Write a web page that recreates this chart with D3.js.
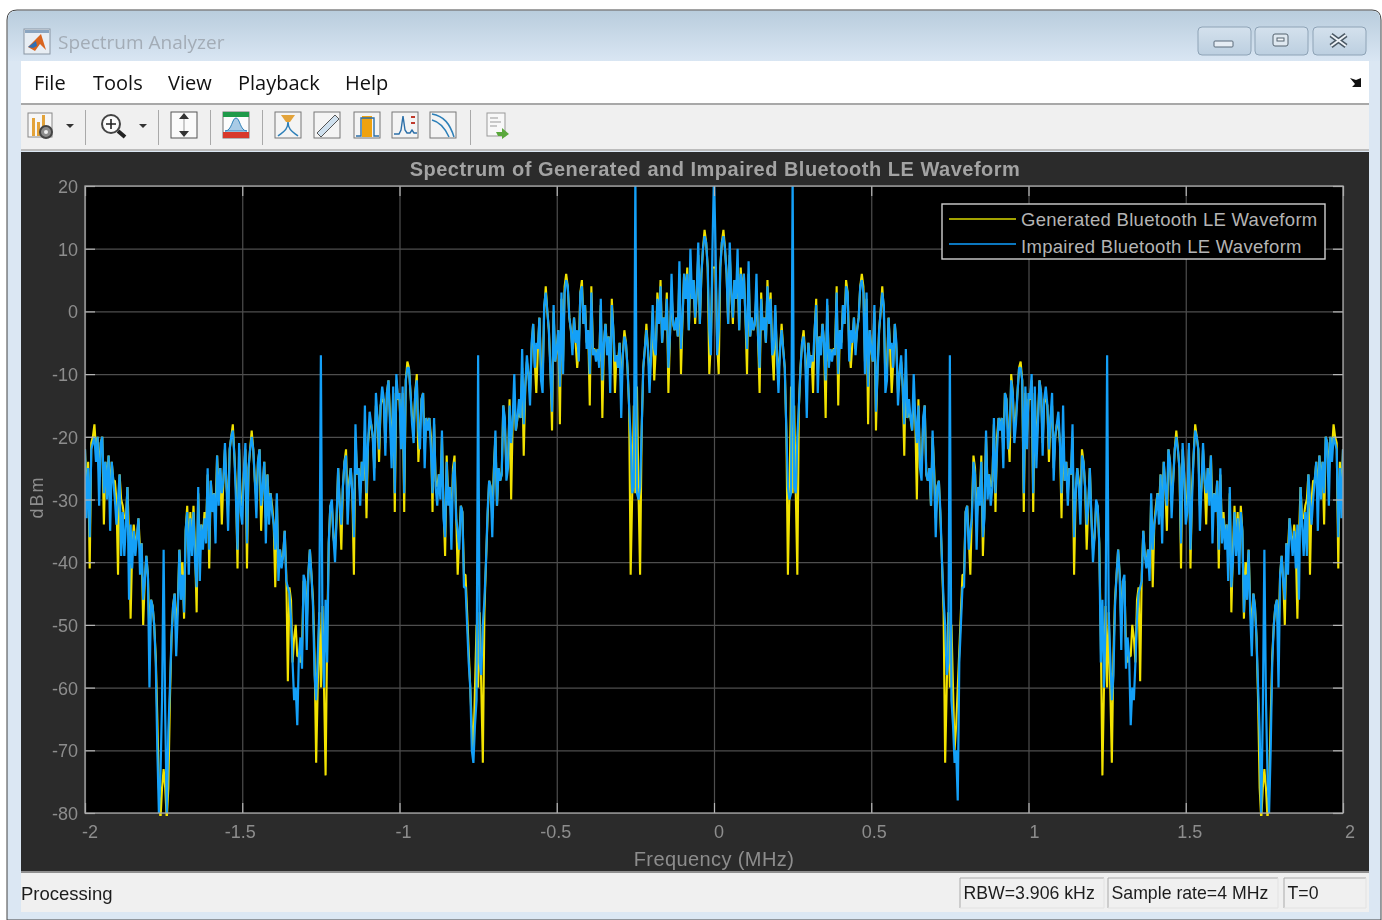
<!DOCTYPE html>
<html>
<head>
<meta charset="utf-8">
<title>Spectrum Analyzer</title>
<script src="https://d3js.org/d3.v7.min.js"></script>
<style>
  html, body { margin: 0; padding: 0; background: #fff; overflow: hidden; }
  svg { display: block; filter: blur(0.45px); }
</style>
</head>
<body>
<div id="chart"></div>
<script>
// Values, one row = 0.1 MHz, 0.005 MHz between samples
var xTicks = [-2, -1.5, -1, -0.5, 0, 0.5, 1, 1.5, 2];
var yTicks = [20, 10, 0, -10, -20, -30, -40, -50, -60, -70, -80];
var seriesNames = ["Generated Bluetooth LE Waveform", "Impaired Bluetooth LE Waveform"];
var menuItems = ["File", "Tools", "View", "Playback", "Help"];

var generatedDbm = [
  -22,-30,-24,-41,-21,-20,-18,-22,-20,-26,-21,-20,-34,-24,-27,-23,-29,-24,-27,-27,
  -30,-42,-26,-30,-31,-33,-33,-28,-36,-49,-38,-34,-37,-36,-33,-38,-37,-50,-43,-39,
  -42,-52,-46,-47,-50,-55,-65,-76,-81,-76,-73,-76,-81,-76,-62,-52,-47,-45,-50,-47,
  -38,-42,-40,-49,-35,-31,-38,-32,-37,-31,-38,-48,-29,-38,-34,-36,-32,-35,-26,-41,
  -27,-31,-29,-32,-23,-29,-25,-34,-27,-22,-28,-31,-22,-20,-18,-23,-28,-41,-22,-30,
  -31,-26,-22,-41,-25,-22,-19,-22,-27,-30,-24,-22,-35,-28,-24,-33,-26,-31,-29,-31,
  -34,-44,-30,-41,-38,-40,-39,-35,-42,-59,-44,-46,-56,-52,-50,-55,-55,-56,-54,-43,
  -43,-50,-42,-38,-42,-46,-55,-72,-60,-48,-60,-47,-60,-74,-52,-37,-31,-31,-36,-38,
  -33,-25,-31,-38,-28,-24,-22,-31,-27,-25,-29,-42,-20,-26,-25,-29,-24,-27,-19,-33,
  -21,-18,-18,-20,-25,-15,-17,-24,-15,-14,-14,-21,-13,-11,-17,-22,-13,-32,-11,-14,
  -14,-20,-13,-32,-11,-8,-9,-13,-17,-19,-13,-10,-24,-19,-14,-13,-22,-17,-18,-17,
  -20,-32,-18,-27,-28,-26,-28,-20,-31,-39,-23,-30,-28,-34,-25,-23,-32,-42,-36,-31,
  -32,-42,-42,-48,-54,-60,-66,-70,-60,-50,-60,-48,-60,-72,-48,-40,-33,-27,-28,-33,
  -25,-20,-31,-25,-27,-26,-15,-18,-25,-25,-14,-30,-17,-14,-19,-17,-16,-17,-9,-23,
  -12,-8,-10,-13,-6,-2,-8,-13,-6,-1,-9,-11,0,4,0,-3,-9,-19,0,-8,
  -6,-3,-18,2,-8,4,6,4,-1,-3,-6,-1,-5,-9,-6,3,5,-2,1,-5,
  -3,-15,4,-6,-6,-7,-6,-8,1,-17,-5,-2,-6,-4,-10,2,-3,-13,-7,-8,
  -5,-12,-7,-3,-5,-9,-15,-42,-29,-15,-29,-12,-29,-42,-19,-9,-6,-2,-6,-10,
  -7,0,-11,-6,3,-2,5,-5,-1,-3,3,-13,-4,3,-2,-3,-1,-4,6,-10,
  -1,6,2,7,-3,7,2,5,-2,3,9,-2,6,10,13,11,7,-10,-5,7,
  7,
  7,-5,-10,7,11,13,10,6,-2,9,3,-2,5,2,7,-3,7,2,6,-1,
  -10,6,-4,-1,-3,-2,3,-4,-13,3,-3,-1,-5,5,-2,3,-6,-11,0,-7,
  -10,-6,-2,-6,-9,-19,-42,-29,-12,-29,-15,-29,-42,-15,-9,-5,-3,-7,-12,-5,
  -8,-7,-13,-3,2,-10,-4,-6,-2,-5,-17,1,-8,-6,-7,-6,-6,4,-15,-3,
  -5,1,-2,5,3,-6,-9,-5,-1,-6,-3,-1,4,6,4,-8,2,-18,-3,-6,
  -8,0,-19,-9,-3,0,4,0,-11,-9,-1,-6,-13,-8,-2,-6,-13,-10,-8,-12,
  -23,-9,-17,-16,-17,-19,-14,-17,-30,-14,-25,-25,-18,-15,-26,-27,-25,-31,-20,-25,
  -33,-28,-27,-33,-40,-48,-72,-60,-48,-60,-50,-60,-70,-66,-60,-54,-48,-42,-42,-32,
  -31,-36,-42,-32,-23,-25,-34,-28,-30,-23,-39,-31,-20,-28,-26,-28,-27,-18,-32,-20,
  -17,-18,-17,-22,-13,-14,-19,-24,-10,-13,-19,-17,-13,-9,-8,-11,-32,-13,-20,-14,
  -14,-11,-32,-13,-22,-17,-11,-13,-21,-14,-14,-15,-24,-17,-15,-25,-20,-18,-18,-21,
  -33,-19,-27,-24,-29,-25,-26,-20,-42,-29,-25,-27,-31,-22,-24,-28,-38,-31,-25,-33,
  -38,-36,-31,-31,-37,-52,-74,-60,-47,-60,-48,-60,-72,-55,-46,-42,-38,-42,-50,-43,
  -43,-54,-56,-55,-55,-50,-52,-56,-46,-44,-59,-42,-35,-39,-40,-38,-41,-30,-44,-34,
  -31,-29,-31,-26,-33,-24,-28,-35,-22,-24,-30,-27,-22,-19,-22,-25,-41,-22,-26,-31,
  -30,-22,-41,-28,-23,-18,-20,-22,-31,-28,-22,-27,-34,-25,-29,-23,-32,-29,-31,-27,
  -41,-26,-35,-32,-36,-34,-38,-29,-48,-38,-31,-37,-32,-38,-31,-35,-49,-40,-42,-38,
  -47,-50,-45,-47,-52,-62,-76,-81,-76,-73,-76,-81,-76,-65,-55,-50,-47,-46,-52,-42,
  -39,-43,-50,-37,-38,-33,-36,-37,-34,-38,-49,-36,-28,-33,-33,-31,-30,-26,-42,-30,
  -27,-27,-24,-29,-23,-27,-24,-34,-20,-21,-26,-20,-22,-18,-20,-21,-41,-24,-30,-22
];

var impairedDbm = [
  -22,-33,-25,-36,-22,-21,-20,-24,-20,-31,-21,-20,-29,-24,-30,-23,-35,-24,-27,-30,
  -34,-30,-26,-39,-32,-39,-34,-28,-46,-34,-41,-35,-39,-36,-33,-42,-37,-46,-43,-39,
  -42,-60,-46,-47,-50,-56,-70,-80,-74,-62,-38,-64,-80,-67,-60,-52,-47,-45,-55,-48,
  -38,-46,-42,-48,-35,-32,-42,-33,-39,-32,-40,-44,-28,-43,-34,-38,-33,-37,-25,-38,
  -27,-32,-29,-37,-23,-31,-25,-29,-27,-21,-28,-35,-22,-20,-19,-23,-30,-38,-21,-32,
  -34,-26,-21,-37,-25,-22,-20,-22,-27,-33,-24,-22,-31,-28,-24,-37,-26,-34,-29,-32,
  -34,-38,-29,-43,-38,-41,-39,-35,-43,-44,-45,-49,-56,-62,-60,-66,-55,-52,-57,-42,
  -43,-54,-42,-38,-42,-47,-58,-62,-55,-48,-7,-50,-60,-46,-56,-37,-31,-30,-36,-40,
  -33,-25,-31,-34,-28,-24,-23,-34,-28,-25,-29,-36,-18,-26,-25,-31,-24,-27,-15,-29,
  -21,-16,-18,-20,-27,-13,-17,-22,-15,-12,-14,-23,-13,-11,-18,-25,-12,-29,-10,-14,
  -13,-22,-12,-29,-11,-9,-9,-13,-18,-21,-13,-11,-19,-22,-14,-13,-25,-17,-19,-17,
  -22,-29,-17,-28,-31,-26,-30,-19,-33,-36,-24,-31,-28,-38,-26,-24,-33,-35,-38,-31,
  -32,-44,-44,-50,-56,-60,-70,-72,-66,-62,-7,-56,-58,-50,-46,-40,-32,-27,-28,-36,
  -26,-19,-31,-25,-27,-26,-15,-17,-27,-25,-15,-21,-17,-10,-19,-17,-14,-17,-6,-18,
  -12,-7,-10,-15,-5,-2,-9,-5,-6,-1,-11,-13,1,3,0,-3,-10,-16,1,-8,
  -6,-3,-12,3,-10,3,5,4,-1,-3,-7,-1,-5,-3,-8,3,4,-2,1,-6,
  -3,-10,3,-7,-6,-8,-6,-9,2,-11,-5,-2,-7,-4,-13,1,-3,-8,-7,-9,
  -5,-17,-7,-4,-5,-9,-15,-20,-29,-28,22,-29,-30,-28,-19,-9,-6,-3,-6,-13,
  -7,1,-6,-7,2,-2,4,-5,-1,-3,2,-9,-4,6,-2,-3,-1,-4,8,-6,
  -1,6,2,6,-3,10,2,5,-1,3,11,-2,6,10,12,11,7,-3,-7,10,
  22,
  10,-7,-3,7,11,12,10,6,-2,11,3,-1,5,2,10,-3,6,2,6,-1,
  -6,8,-4,-1,-3,-2,6,-4,-9,2,-3,-1,-5,4,-2,2,-7,-6,1,-7,
  -13,-6,-3,-6,-9,-19,-28,-30,-29,22,-28,-29,-20,-15,-9,-5,-4,-7,-17,-5,
  -9,-7,-8,-3,1,-13,-4,-7,-2,-5,-11,2,-9,-6,-8,-6,-7,3,-10,-3,
  -6,1,-2,4,3,-8,-3,-5,-1,-7,-3,-1,4,5,3,-10,3,-12,-3,-6,
  -8,1,-16,-10,-3,0,3,1,-13,-11,-1,-6,-5,-9,-2,-5,-15,-10,-7,-12,
  -18,-6,-17,-14,-17,-19,-10,-17,-21,-15,-25,-27,-17,-15,-26,-27,-25,-31,-19,-26,
  -36,-28,-27,-32,-40,-46,-50,-58,-56,-7,-62,-66,-72,-70,-78,-56,-50,-44,-44,-32,
  -31,-38,-35,-33,-24,-26,-38,-28,-31,-24,-36,-33,-19,-30,-26,-31,-28,-17,-29,-22,
  -17,-19,-17,-25,-13,-14,-22,-19,-11,-13,-21,-18,-13,-9,-9,-11,-29,-12,-22,-13,
  -14,-10,-29,-12,-25,-18,-11,-13,-23,-14,-12,-15,-22,-17,-13,-27,-20,-18,-16,-21,
  -29,-15,-27,-24,-31,-25,-26,-18,-36,-29,-25,-28,-34,-23,-24,-28,-34,-31,-25,-33,
  -40,-36,-30,-31,-37,-56,-46,-60,-50,-7,-48,-55,-62,-58,-47,-42,-38,-42,-54,-43,
  -42,-57,-52,-55,-66,-60,-62,-56,-49,-45,-44,-43,-35,-39,-41,-38,-43,-29,-38,-34,
  -32,-29,-34,-26,-37,-24,-28,-31,-22,-24,-33,-27,-22,-20,-22,-25,-37,-21,-26,-34,
  -32,-21,-38,-30,-23,-19,-20,-22,-35,-28,-21,-27,-29,-25,-31,-23,-37,-29,-32,-27,
  -38,-25,-37,-33,-38,-34,-43,-28,-44,-40,-32,-39,-33,-42,-32,-35,-48,-42,-46,-38,
  -48,-55,-45,-47,-52,-60,-67,-80,-64,-38,-62,-74,-80,-70,-56,-50,-47,-46,-60,-42,
  -39,-43,-46,-37,-42,-33,-36,-39,-35,-41,-34,-46,-28,-34,-39,-32,-39,-26,-30,-34,
  -30,-27,-24,-35,-23,-30,-24,-29,-20,-21,-31,-20,-24,-20,-21,-22,-36,-25,-33,-22
];

// sample frequencies, same bin for both traces
var freqMHz = generatedDbm.map(function(d, i) { return -2 + i * 0.005; });

var W = 1382, H = 920;
var sans = "'Liberation Sans', Arial, sans-serif";
var uiFont = "'Open Sans', 'Noto Sans', sans-serif";

var svg = d3.select("#chart").append("svg").attr("width", W).attr("height", H);

function rect(g, x, y, w, h, fill, stroke) {
    return g.append("rect").attr("x", x).attr("y", y).attr("width", w).attr("height", h)
        .attr("fill", fill).attr("stroke", stroke || "none");
}
function label(g, x, y, txt, size, color, anchor, font) {
    return g.append("text").attr("x", x).attr("y", y).text(txt)
        .attr("font-family", font || sans).attr("font-size", size)
        .attr("fill", color).attr("text-anchor", anchor || "start")
        .attr("dominant-baseline", "central");
}

/**
 * Window frame: title bar, menu, toolbar and status bar
 */
var defs = svg.append("defs");
var grad = defs.append("linearGradient").attr("id", "titleGrad").attr("x1", 0).attr("x2", 0).attr("y1", 0).attr("y2", 1);
grad.append("stop").attr("offset", "0%").attr("stop-color", "#b9cddd");
grad.append("stop").attr("offset", "100%").attr("stop-color", "#d9e6f3");
var btnGrad = defs.append("linearGradient").attr("id", "btnGrad").attr("x1", 0).attr("x2", 0).attr("y1", 0).attr("y2", 1);
btnGrad.append("stop").attr("offset", "0%").attr("stop-color", "#d4e1ed");
btnGrad.append("stop").attr("offset", "100%").attr("stop-color", "#bccfe0");

var frame = svg.append("g");
frame.append("path")
    .attr("d", "M7,920 V20 Q7,10 17,10 H1372 Q1381,10 1381,20 V920 Z")
    .attr("fill", "#dbe7f3").attr("stroke", "#444").attr("stroke-width", 1);
frame.append("path").attr("d", "M8,61 V20 Q8,11 17,11 H1372 Q1380,11 1380,20 V61 Z").attr("fill", "url(#titleGrad)");

// title bar
var titleIcon = frame.append("g");
rect(titleIcon, 24, 29, 26, 25, "#e8eef4", "#8a96a3");
rect(titleIcon, 25, 30, 24, 3, "#8ba5c0");
titleIcon.append("path").attr("d", "M28,47 L37,38 L41,34 L46,50 L40,44 L35,51 Z").attr("fill", "#d9641e");
titleIcon.append("path").attr("d", "M28,47 L36,41 L37,46 L33,48 Z").attr("fill", "#2f6fb5");
label(frame, 58, 42, "Spectrum Analyzer", 19, "#a3acb6", "start", uiFont);

var btnX = [1198, 1255, 1313];
btnX.forEach(function(x) {
    rect(frame, x, 27, 53, 28, "url(#btnGrad)", "#8ea3b6").attr("rx", 4);
});
rect(frame, 1214, 41, 19, 6, "#e6edf4", "#5b6b7a").attr("rx", 1);
rect(frame, 1273, 34, 15, 12, "#dfe8f0", "#55636f").attr("rx", 2);
rect(frame, 1277, 38, 7, 3, "#f2f6fa", "#55636f");
frame.append("path").attr("d", "M1331,35 L1346,46 M1346,35 L1331,46").attr("stroke", "#4a5864").attr("stroke-width", 5);
frame.append("path").attr("d", "M1331,35 L1346,46 M1346,35 L1331,46").attr("stroke", "#eef3f8").attr("stroke-width", 2);

// menu bar
rect(frame, 21, 61, 1348, 42, "#fff");
rect(frame, 21, 103, 1348, 2, "#a8a8a8");
var menuX = [34, 93, 168, 238, 345];
menuItems.forEach(function(m, i) {
    label(frame, menuX[i], 82, m, 20, "#111", "start", uiFont);
});
frame.append("path").attr("d", "M1350,78 L1356,80 L1361,78 L1361,87 L1352,87 L1355,84 Z").attr("fill", "#111");

// toolbar
rect(frame, 21, 105, 1348, 45, "#f0f0f0");
rect(frame, 21, 149, 1348, 2, "#bcbcbc");
[85, 158, 210, 262, 470].forEach(function(x) { rect(frame, x, 110, 1, 35, "#a9a9a9"); });
[70, 143].forEach(function(x) {
    frame.append("path").attr("d", "M" + (x - 4) + ",124 h8 l-4,4 Z").attr("fill", "#333");
});

var tools = frame.append("g");
// plot properties
rect(tools, 28, 113, 24, 24, "#f7f7f7", "#888");
[[32, 118, "#e3a33a"], [37, 122, "#e3a33a"], [42, 115, "#e3a33a"]].forEach(function(b) {
    rect(tools, b[0], b[1], 3, 136 - b[1], b[2]);
});
tools.append("circle").attr("cx", 46).attr("cy", 132).attr("r", 6).attr("fill", "#8b8b8b").attr("stroke", "#444").attr("stroke-width", 2);
tools.append("circle").attr("cx", 46).attr("cy", 132).attr("r", 2).attr("fill", "#eee");
// zoom
tools.append("circle").attr("cx", 111).attr("cy", 124).attr("r", 9).attr("fill", "#fbfbfb").attr("stroke", "#444").attr("stroke-width", 2);
tools.append("path").attr("d", "M106,124 h10 M111,119 v10").attr("stroke", "#222").attr("stroke-width", 1.6);
tools.append("path").attr("d", "M118,131 L125,137").attr("stroke", "#222").attr("stroke-width", 4);
// autoscale
rect(tools, 171, 112, 26, 26, "#fafafa", "#555");
tools.append("path").attr("d", "M184,113 l-5,6 h10 Z M184,137 l-5,-6 h10 Z").attr("fill", "#333");
tools.append("path").attr("d", "M184,119 V131").attr("stroke", "#999");
// spectral mask
rect(tools, 223, 112, 26, 26, "#fdfdfd", "#777");
rect(tools, 223, 112, 26, 5, "#1f9a4a");
rect(tools, 223, 132, 26, 6, "#d8392b");
tools.append("path").attr("d", "M225,131 C232,131 232,118 236,118 C240,118 240,131 247,131 Z").attr("fill", "#a9cbe6").attr("stroke", "#2c7fb8");
// measurement icons
[275, 314, 354, 392, 430].forEach(function(x) { rect(tools, x, 112, 26, 26, "#f4f4f4", "#777"); });
tools.append("path").attr("d", "M281,115 h14 l-5,7 h-4 Z").attr("fill", "#e3a33a");
tools.append("path").attr("d", "M288,122 C288,130 283,132 278,136 M288,122 C288,130 293,132 298,136").attr("stroke", "#2c7fb8").attr("fill", "none").attr("stroke-width", 1.5);
tools.append("path").attr("d", "M317,133 L335,115 L339,119 L321,137 Z").attr("fill", "#cfe0ee").attr("stroke", "#555");
rect(tools, 362, 116, 10, 21, "#f0a20e");
tools.append("path").attr("d", "M356,136 h5 V118 h13 V136 h5").attr("stroke", "#2c6fa8").attr("fill", "none").attr("stroke-width", 1.4);
tools.append("path").attr("d", "M394,134 h5 l2,-4 l2,-14 l2,14 l2,3 h3 l2,-3 l2,3 h3").attr("stroke", "#2c6fa8").attr("fill", "none").attr("stroke-width", 1.4);
rect(tools, 411, 116, 4, 2, "#c0392b");
rect(tools, 411, 122, 4, 2, "#c0392b");
tools.append("path").attr("d", "M432,114 C444,116 450,124 454,137 M432,120 C440,122 445,128 449,137").attr("stroke", "#2c7fb8").attr("fill", "none").attr("stroke-width", 1.5);
// print / export
rect(tools, 487, 113, 18, 23, "#f8f8f8", "#999");
tools.append("path").attr("d", "M490,118 h8 M490,122 h11 M490,126 h7").attr("stroke", "#999");
tools.append("path").attr("d", "M496,132 h6 v-4 l7,6 l-7,5 v-3 h-4 Z").attr("fill", "#5aa83c");

// status bar
rect(frame, 21, 152, 1348, 720, "#2b2b2b");
rect(frame, 21, 871, 1348, 2, "#8f8f8f");
rect(frame, 21, 873, 1348, 39, "#f0f0f0");
label(frame, 21, 893, "Processing", 18.5, "#1c1c1c");
var statusBoxes = [[960, 144, "RBW=3.906 kHz"], [1108, 170, "Sample rate=4 MHz"], [1284, 82, "T=0"]];
statusBoxes.forEach(function(b) {
    frame.append("path").attr("d", "M" + b[0] + ",908 V878 H" + (b[0] + b[1])).attr("fill", "none").attr("stroke", "#aaa");
    frame.append("path").attr("d", "M" + (b[0] + b[1]) + ",878 V908 H" + b[0]).attr("fill", "none").attr("stroke", "#e2e2e2");
    label(frame, b[0] + 3.5, 893, b[2], 17.7, "#1c1c1c");
});

/**
 * Plot area
 */
var left = 85, right = 1343, top_ = 186, bottom = 813;
var x = d3.scaleLinear().domain([-2, 2]).range([left, right]);
var y = d3.scaleLinear().domain([-80, 20]).range([bottom, top_]);

var plot = svg.append("g");
rect(plot, left, top_, right - left, bottom - top_, "#000");

// grid comes first, under the traces
function gridStyle(sel) {
    sel.select(".domain").remove();
    sel.selectAll("line").attr("stroke", "#4e4e4e").attr("stroke-width", 1.2);
    sel.selectAll("text").remove();
}
plot.append("g").attr("transform", "translate(0," + bottom + ")")
    .call(d3.axisBottom(x).tickValues(xTicks).tickSize(-(bottom - top_)))
    .call(gridStyle);
plot.append("g").attr("transform", "translate(" + left + ",0)")
    .call(d3.axisLeft(y).tickValues(yTicks).tickSize(-(right - left)))
    .call(gridStyle);

defs.append("clipPath").attr("id", "plotClip").append("rect")
    .attr("x", left).attr("y", top_).attr("width", right - left).attr("height", bottom - top_ + 3);

var line = d3.line()
    .x(function(d, i) { return x(freqMHz[i]); })
    .y(function(d) { return y(d); });

var traces = plot.append("g").attr("clip-path", "url(#plotClip)");
traces.append("path").datum(generatedDbm).attr("d", line)
    .attr("fill", "none").attr("stroke", "#f2e200").attr("stroke-width", 2.1).attr("stroke-linejoin", "bevel");
traces.append("path").datum(impairedDbm).attr("d", line)
    .attr("fill", "none").attr("stroke", "#14a0f8").attr("stroke-width", 2.2).attr("stroke-linejoin", "bevel");

// short bright ticks on all four sides and the box
function tickStyle(sel) {
    sel.select(".domain").remove();
    sel.selectAll("line").attr("stroke", "#b5b5b5").attr("stroke-width", 1.2);
    sel.selectAll("text").remove();
}
plot.append("g").attr("transform", "translate(0," + bottom + ")")
    .call(d3.axisBottom(x).tickValues(xTicks).tickSize(-10)).call(tickStyle);
plot.append("g").attr("transform", "translate(0," + top_ + ")")
    .call(d3.axisTop(x).tickValues(xTicks).tickSize(-10)).call(tickStyle);
plot.append("g").attr("transform", "translate(" + left + ",0)")
    .call(d3.axisLeft(y).tickValues(yTicks).tickSize(-10)).call(tickStyle);
plot.append("g").attr("transform", "translate(" + right + ",0)")
    .call(d3.axisRight(y).tickValues(yTicks).tickSize(-10)).call(tickStyle);
rect(plot, left, top_, right - left, bottom - top_, "none", "#a8a8a8").attr("stroke-width", 1.3);

// tick labels sit a few pixels off their ticks in the original
var tickGrey = "#8d8d8d";
var xNudge = { "-2": 5, "-1.5": -2, "-1": 4, "-0.5": -1, "0": 5, "0.5": 3, "1": 6, "1.5": 4, "2": 7 };
xTicks.forEach(function(t) {
    label(plot, x(t) + xNudge[t], 832, String(t), 18, tickGrey, "middle");
});
yTicks.forEach(function(t) {
    label(plot, 78, y(t) + 1, String(t), 18, tickGrey, "end");
});
label(plot, 714, 859, "Frequency (MHz)", 20, tickGrey, "middle").attr("letter-spacing", 0.4);
label(plot, 715, 169, "Spectrum of Generated and Impaired Bluetooth LE Waveform", 20, "#a3a3a3", "middle")
    .attr("font-weight", "bold").attr("letter-spacing", 0.5);
label(plot, 0, 0, "dBm", 18, tickGrey, "middle")
    .attr("letter-spacing", 2)
    .attr("transform", "translate(37,497) rotate(-90)");

// legend
var legend = plot.append("g");
rect(legend, 942, 204, 383, 55, "#000", "#d0d0d0").attr("stroke-width", 1.4);
var legendY = [219, 244];
var legendColors = ["#d8d800", "#0f9fff"];
seriesNames.forEach(function(name, i) {
    legend.append("line").attr("x1", 949).attr("x2", 1016).attr("y1", legendY[i]).attr("y2", legendY[i])
        .attr("stroke", legendColors[i]).attr("stroke-width", 1.6);
    label(legend, 1021, legendY[i] + i * 2, name, 18.5, "#b4b4b4").attr("letter-spacing", 0.3);
});
</script>
</body>
</html>
